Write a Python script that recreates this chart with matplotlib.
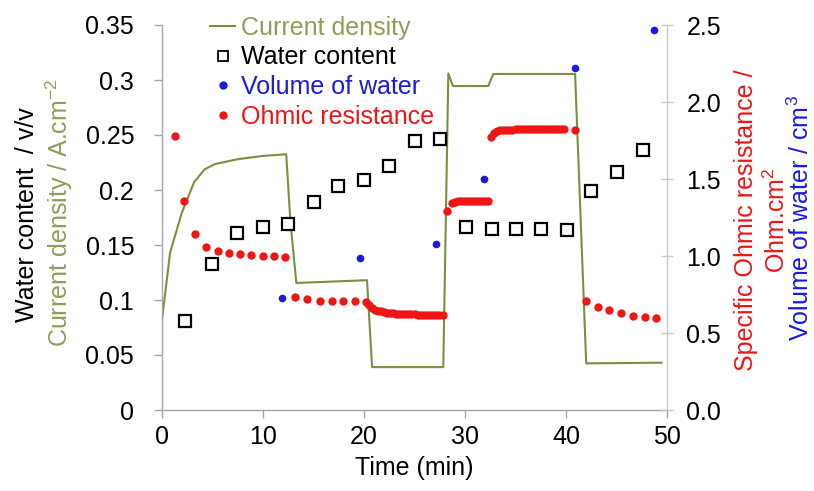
import numpy as np
import matplotlib
matplotlib.use('Agg')
import matplotlib.pyplot as plt
from matplotlib.lines import Line2D

plt.rcParams['font.family'] = ['Liberation Sans', 'DejaVu Sans']
plt.rcParams['mathtext.fontset'] = 'custom'
plt.rcParams['mathtext.rm'] = 'Liberation Sans'
plt.rcParams['mathtext.default'] = 'regular'

# ---- data ----
# current density (left axis, A/cm2)
cd_t = [0, 0.8, 1.95, 3.2, 4.25, 5.25, 7.5, 10, 12.3, 12.7, 13.3, 20.3, 20.8, 27.85,
        28.35, 28.8, 32.3, 32.8, 40.9, 42.0, 49.45]
cd_y = [0.082, 0.143, 0.179, 0.2075, 0.219, 0.2236, 0.228, 0.231, 0.2325, 0.173, 0.1155,
        0.118, 0.039, 0.039, 0.306, 0.2945, 0.2945, 0.3055, 0.3055, 0.0424, 0.043]

# water content (left axis, v/v)
wc_t = [2.3, 4.95, 7.4, 10.0, 12.5, 15.0, 17.4, 20.0, 22.5, 25.0, 27.5,
        30.1, 32.7, 35.0, 37.5, 40.1, 42.5, 45.0, 47.6]
wc_y = [0.081, 0.133, 0.161, 0.166, 0.169, 0.189, 0.204, 0.209, 0.222, 0.245, 0.246,
        0.166, 0.165, 0.165, 0.165, 0.164, 0.199, 0.216, 0.236]

# volume of water (right axis, cm3)
vw_t = [11.85, 19.6, 27.1, 31.9, 40.9, 48.7]
vw_y = [0.727, 0.99, 1.08, 1.50, 2.22, 2.47]

# specific ohmic resistance (right axis, Ohm.cm2)
or_t = [1.3, 2.2, 3.3, 4.35, 5.5, 6.6, 7.7, 8.8, 10.0, 11.1, 12.2,
        13.2, 14.4, 15.6, 16.8, 17.9, 19.1, 20.2,
        20.5, 20.8, 21.1, 21.4, 21.7, 22.0, 22.3, 22.6, 22.9, 23.2, 23.5, 23.8, 24.1,
        24.4, 24.7, 25.0, 25.3, 25.6, 25.9, 26.2, 26.5, 26.8, 27.1, 27.4, 27.8,
        28.25, 28.7, 29.0, 29.3, 29.6, 29.9, 30.2, 30.5, 30.8, 31.1, 31.4, 31.7, 32.0, 32.3,
        32.6, 32.9, 33.2, 33.5, 33.8, 34.1, 34.4, 34.7, 35.0, 35.3, 35.6, 35.9, 36.2,
        36.5, 36.8, 37.1, 37.4, 37.7, 38.0, 38.3, 38.6, 38.9, 39.2, 39.5, 39.8, 40.9,
        42.0, 43.2, 44.3, 45.4, 46.6, 47.8, 48.9]
or_y = [1.78, 1.36, 1.14, 1.06, 1.035, 1.02, 1.01, 1.005, 1.0, 1.0, 0.995,
        0.735, 0.72, 0.71, 0.71, 0.71, 0.705, 0.70,
        0.68, 0.665, 0.652, 0.645, 0.64, 0.636, 0.633, 0.63, 0.628, 0.626, 0.625, 0.624, 0.623,
        0.622, 0.622, 0.621, 0.62, 0.62, 0.62, 0.619, 0.619, 0.619, 0.618, 0.618, 0.618,
        1.29, 1.345, 1.352, 1.356, 1.358, 1.36, 1.36, 1.36, 1.36, 1.36, 1.36, 1.36, 1.36, 1.36,
        1.775, 1.80, 1.81, 1.815, 1.818, 1.82, 1.82, 1.82, 1.822, 1.822, 1.822, 1.822, 1.822,
        1.824, 1.824, 1.824, 1.824, 1.824, 1.825, 1.825, 1.825, 1.825, 1.825, 1.825, 1.825, 1.82,
        0.71, 0.67, 0.65, 0.63, 0.61, 0.605, 0.595]

# colours
green = '#76923c'
green_txt = '#8aa05a'
red = '#ee1515'
blue = '#1a1ae0'
spine_c = '#a6a6a6'
fs = 18

fig = plt.figure(figsize=(8.14, 4.91), dpi=100)
ax = fig.add_axes([162/814, 1-410/491, 505/814, 385/491])
ax2 = ax.twinx()

ax.plot(cd_t, cd_y, color=green, lw=1.5, zorder=2)
ax.plot(wc_t, wc_y, ls='none', marker='s', ms=9, mfc='white', mec='black', mew=1.6, zorder=3)
ax2.plot(or_t, or_y, ls='none', marker='o', ms=6, mfc=red, mec=red, mew=0, zorder=3)
ax2.plot(vw_t, vw_y, ls='none', marker='o', ms=5.5, mfc=blue, mec=blue, mew=0, zorder=3)

ax.set_xlim(0, 50)
ax.set_ylim(0, 0.35)
ax2.set_ylim(0, 2.5)
ax.set_xticks([0, 10, 20, 30, 40, 50])
ax.set_yticks([0, 0.05, 0.1, 0.15, 0.2, 0.25, 0.3, 0.35])
ax.set_yticklabels(['0', '0.05', '0.1', '0.15', '0.2', '0.25', '0.3', '0.35'])
ax2.set_yticks([0, 0.5, 1.0, 1.5, 2.0, 2.5])
ax2.set_yticklabels(['0.0', '0.5', '1.0', '1.5', '2.0', '2.5'])

for a in (ax, ax2):
    a.spines['top'].set_visible(False)
    for s in ('left', 'bottom', 'right'):
        a.spines[s].set_color(spine_c)
        a.spines[s].set_linewidth(1.0)
ax.spines['right'].set_visible(False)
ax2.spines['left'].set_visible(False)
ax2.spines['bottom'].set_visible(False)
ax2.spines['right'].set_color('#c8c8c8')

ax.tick_params(axis='both', direction='out', length=6, width=1, color=spine_c,
               labelsize=fs, pad=5)
ax.tick_params(axis='y', pad=14)
ax2.tick_params(axis='y', direction='inout', length=8, width=1, color='#c8c8c8',
                labelsize=fs, pad=10)

ax.set_xlabel('Time (min)', fontsize=fs, labelpad=5)

fig.text(27/814, 1-215/491, 'Water content  / v/v', rotation=90, fontsize=fs,
         color='black', ha='center', va='center')
fig.text(59/814, 1-213/491, 'Current density / A.cm$^{-2}$', rotation=90, fontsize=fs,
         color=green_txt, ha='center', va='center')
fig.text(762/814, 1-220/491, 'Specific Ohmic resistance /\nOhm.cm$^{2}$', rotation=90,
         fontsize=fs, color=red, ha='center', va='center', multialignment='center',
         linespacing=1.3)
fig.text(801/814, 1-218/491, 'Volume of water / cm$^{3}$', rotation=90, fontsize=fs,
         color=blue, ha='center', va='center')

handles = [Line2D([], [], color=green, lw=1.5),
           Line2D([], [], ls='none', marker='s', ms=7, mfc='white', mec='black', mew=1.3),
           Line2D([], [], ls='none', marker='o', ms=5, mfc=blue, mec=blue),
           Line2D([], [], ls='none', marker='o', ms=5, mfc=red, mec=red)]
labels = ['Current density', 'Water content', 'Volume of water', 'Ohmic resistance']
leg = ax2.legend(handles, labels, loc='upper left', bbox_to_anchor=(210/814, 1-16/491),
                 bbox_transform=fig.transFigure, frameon=False, fontsize=fs,
                 handlelength=1.0, handletextpad=0.25, labelspacing=0.22,
                 borderpad=0, borderaxespad=0,
                 labelcolor=[green_txt, 'black', blue, red])

fig.savefig('out.png', dpi=100)
